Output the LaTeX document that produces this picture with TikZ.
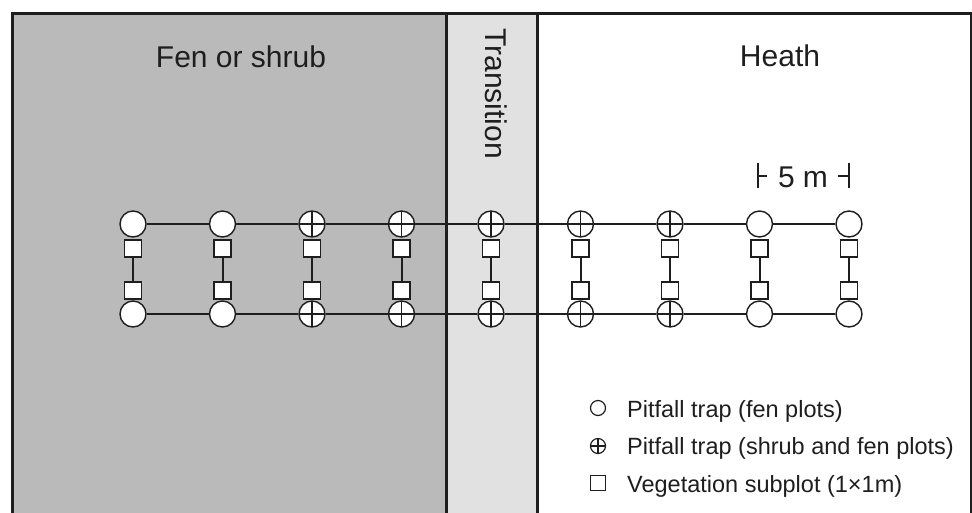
\documentclass[tikz,border=0pt]{standalone}
\usepackage{fontspec}
\setmainfont{Liberation Sans}
\definecolor{fengrey}{HTML}{BABABA}
\definecolor{transgrey}{HTML}{E1E1E1}
\definecolor{ink}{HTML}{1E1E1E}
\begin{document}
\begin{tikzpicture}[x=1pt,y=-1pt,
  frame/.style={draw=ink,line width=3pt},
  trap/.style={circle,draw=ink,fill=white,line width=1.4pt,minimum size=26pt,inner sep=0pt},
  crosstrap/.style={trap,path picture={\draw[ink,line width=1.4pt]
      (path picture bounding box.north) -- (path picture bounding box.south)
      (path picture bounding box.west) -- (path picture bounding box.east);}},
  subplot/.style={rectangle,draw=ink,fill=white,line width=1.2pt,minimum size=17pt,inner sep=0pt},
  link/.style={draw=ink,line width=2pt},
  bigtext/.style={font=\fontsize{30}{36}\selectfont,text=ink,inner sep=0pt},
  legtext/.style={font=\fontsize{23.5}{28}\selectfont,text=ink,inner sep=0pt,anchor=base west},
  legtrap/.style={circle,draw=ink,line width=1.2pt,minimum size=15pt,inner sep=0pt},
  legcross/.style={legtrap,path picture={\draw[ink,line width=1.2pt]
      (path picture bounding box.north) -- (path picture bounding box.south)
      (path picture bounding box.west) -- (path picture bounding box.east);}},
  legsub/.style={rectangle,draw=ink,line width=1.2pt,minimum size=14.5pt,inner sep=0pt},
  tick/.style={draw=ink,line width=1.5pt}]
\useasboundingbox (0,0) rectangle (972,512);
\clip (0,0) rectangle (972,512);
% zones
\fill[fengrey] (12,13) rectangle (446,540);
\fill[transgrey] (446,13) rectangle (537,540);
\draw[frame] (12,13) rectangle (971,540);
\draw[frame] (446,13) -- (446,540);
\draw[frame] (537,13) -- (537,540);
% zone titles
\node[bigtext,anchor=base] (fen) at (241,67) {Fen or shrub};
\node[bigtext,anchor=base] (heath) at (780,66) {Heath};
\node[bigtext,rotate=-90,anchor=base west] (trans) at (485,28) {Transition};
% scale bar
\node[bigtext,anchor=base] (five) at (803,187) {5 m};
\coordinate (la) at (758,163);
\coordinate (lb) at (758,188);
\coordinate (lc) at (767,176);
\coordinate (ra) at (849,163);
\coordinate (rb) at (849,188);
\coordinate (rc) at (838,176);
\draw[tick] (la) -- (lb);
\draw[tick] (la |- lc) -- (lc);
\draw[tick] (ra) -- (rb);
\draw[tick] (ra |- rc) -- (rc);
% traps and subplots
\foreach \i in {1,...,9}{
  \pgfmathsetmacro{\xx}{133+89.5*(\i-1)}
  \ifnum\i<3
    \def\ts{trap}
  \else\ifnum\i>7
    \def\ts{trap}
  \else
    \def\ts{crosstrap}
  \fi\fi
  \node[\ts] (t\i) at (\xx,224) {};
  \node[\ts] (b\i) at (\xx,314) {};
  \node[subplot] (s\i) at (\xx,248.5) {};
  \node[subplot] (q\i) at (\xx,290.5) {};
  \draw[link] (s\i) -- (q\i);
}
\foreach \i [evaluate=\i as \j using int(\i+1)] in {1,...,8}{
  \draw[link] (t\i) -- (t\j);
  \draw[link] (b\i) -- (b\j);
}
% legend
\node[legtrap] (l1) at (598,408) {};
\node[legcross] (l2) at (598,446) {};
\node[legsub] (l3) at (598,483) {};
\node[legtext] (l1t) at (627,417) {Pitfall trap (fen plots)};
\node[legtext] (l2t) at (627,454) {Pitfall trap (shrub and fen plots)};
\node[legtext] (l3t) at (627,492) {Vegetation subplot (1×1m)};
\end{tikzpicture}
\end{document}
